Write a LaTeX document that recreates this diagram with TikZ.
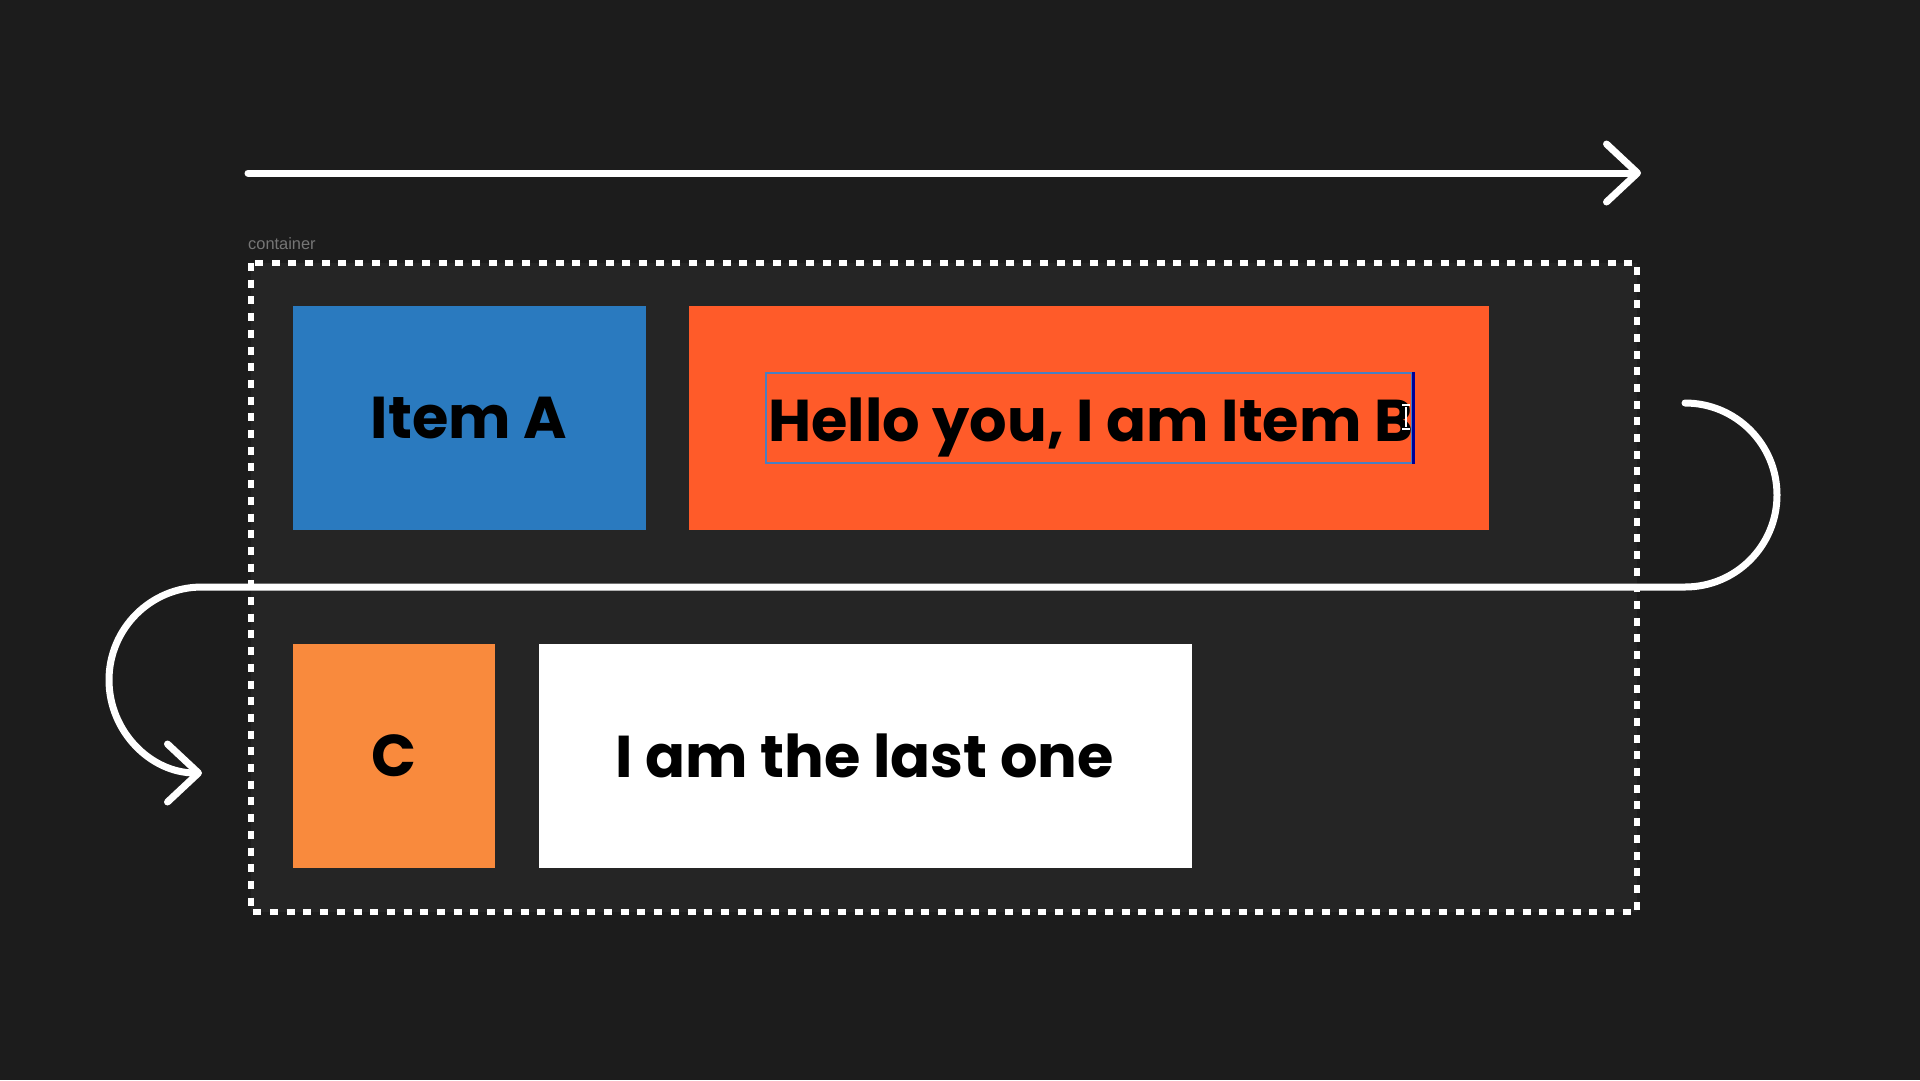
\documentclass[tikz,border=0pt]{standalone}
\usepackage{fontspec}
\setmainfont{Poppins}
\setsansfont{Liberation Sans}
\usetikzlibrary{arrows.meta}
\definecolor{bgdark}{HTML}{1C1C1C}
\definecolor{boxdark}{HTML}{252525}
\definecolor{itemblue}{HTML}{2A7ABF}
\definecolor{itemred}{HTML}{FF5B29}
\definecolor{itemorange}{HTML}{F98A3D}
\definecolor{selblue}{HTML}{4A7FC1}
\definecolor{labelgray}{HTML}{767676}
\begin{document}
\begin{tikzpicture}[x=1pt,y=-1pt,
		item/.style={inner sep=0pt,font=\fontsize{59}{64}\selectfont\bfseries,text=black},
		flow/.style={white,line width=7pt,line cap=round,line join=round},
		chevron/.style={-{Straight Barb[length=31pt,width=58pt,round]}}]
	\useasboundingbox[fill=bgdark] (0,0) rectangle (1920,1080);
	% the container
	\draw[white,fill=boxdark,line width=5.5pt,dash pattern=on 8pt off 8.7pt] (251,263) rectangle (1637,912);
	\node[anchor=south west,inner sep=0pt,text=labelgray,font=\sffamily\fontsize{16.4}{18}\selectfont] (lbl) at (248,250) {container};
	% the items
	\node[item,fill=itemblue,minimum width=353pt,minimum height=224pt] (a) at (469,418) {Item A};
	\node[item,fill=itemred,minimum width=800pt,minimum height=224pt] (b) at (1089,418) {};
	\node[item,fill=itemorange,minimum width=202pt,minimum height=224pt] (c) at (394,756) {C};
	\node[item,fill=white,minimum width=653pt,minimum height=224pt] (d) at (865,756) {I am the last one};
	\node[draw=selblue,line width=2pt,minimum width=646pt,minimum height=90pt,inner sep=0pt] (sel) at (1089,418) {};
	\node[item,anchor=base west] (btext) at (768,441) {Hello you, I am Item B};
	\draw[blue!60!black,line width=3pt] (sel.north east) -- (sel.south east);
	% the cursor
	\draw[black,line width=2.6pt] (1406,407) -- (1406,427) (1402,405) -- (1410,405) (1402,429) -- (1410,429);
	\draw[white,line width=1.2pt] (1406,407) -- (1406,427) (1402,405) -- (1410,405) (1402,429) -- (1410,429);
	% the direction arrows
	\coordinate (s1) at (248,173);
	\coordinate (e1) at (1641,173);
	\coordinate (s2) at (1685,403);
	\draw[flow,chevron] (s1) -- (e1);
	\draw[flow,chevron] (s2) arc[start angle=-90,end angle=90,radius=92] -- (202,587) arc[start angle=270,end angle=90,radius=93];
\end{tikzpicture}
\end{document}
